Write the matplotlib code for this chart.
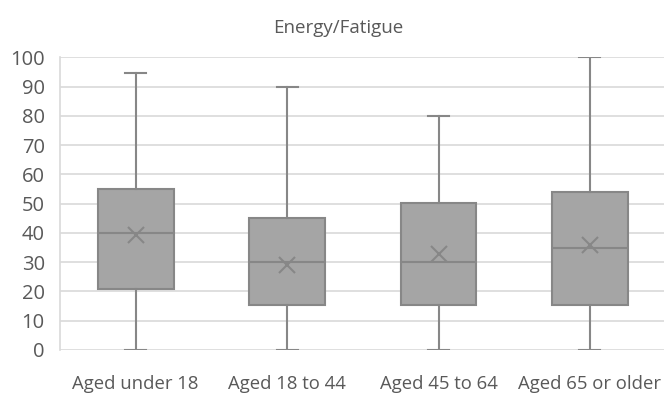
import matplotlib
matplotlib.use("Agg")
import matplotlib.pyplot as plt

plt.rcParams["font.family"] = ["Open Sans", "DejaVu Sans"]

# Values
categories = ["Aged under 18", "Aged 18 to 44", "Aged 45 to 64", "Aged 65 or older"]
whisker_low = [0, 0, 0, 0]
q1 = [21, 15.5, 15.5, 15.5]
median = [40, 30, 30, 35]
q3 = [55, 45, 50.3, 54]
whisker_high = [94.5, 90, 80, 100]
means = [39.3, 29, 32.8, 35.7]

stats = []
for i, name in enumerate(categories):
    stats.append({
        "label": name,
        "whislo": whisker_low[i],
        "q1": q1[i],
        "med": median[i],
        "q3": q3[i],
        "whishi": whisker_high[i],
        "mean": means[i],
        "fliers": [],
    })

line_col = "#878787"
face_col = "#a5a5a5"
text_col = "#595959"

fig = plt.figure(figsize=(6.64, 3.94), dpi=100)
ax = fig.add_axes([0.0904, 0.1117, 0.912, 0.743])

ax.bxp(
    stats,
    positions=range(len(categories)),
    widths=0.5,
    patch_artist=True,
    showmeans=True,
    boxprops=dict(facecolor=face_col, edgecolor=line_col, linewidth=1.5),
    medianprops=dict(color=line_col, linewidth=1.5),
    whiskerprops=dict(color=line_col, linewidth=1.5),
    capprops=dict(color=line_col, linewidth=1.5),
    capwidths=0.14,
    meanprops=dict(marker="x", markersize=11, markeredgecolor=line_col,
                   markeredgewidth=1.5),
    zorder=3,
)

ax.set_xlim(-0.5, len(categories) - 0.5)
ax.set_ylim(0, 100)
ax.set_yticks(range(0, 101, 10))
ax.yaxis.grid(True, color="#d9d9d9", linewidth=1.2, zorder=0)
ax.set_axisbelow(True)

for side in ["top", "right", "bottom"]:
    ax.spines[side].set_visible(False)
ax.spines["left"].set_color("#d9d9d9")
ax.spines["left"].set_linewidth(1.2)

ax.tick_params(axis="y", length=0, pad=11, labelsize=14.5, labelcolor=text_col)
ax.tick_params(axis="x", length=0, pad=18, labelsize=13.3, labelcolor=text_col)

fig.text(0.51, 0.93, "Energy/Fatigue", fontsize=13.5, color=text_col,
         ha="center", va="center")

fig.savefig("out.png", dpi=100)
